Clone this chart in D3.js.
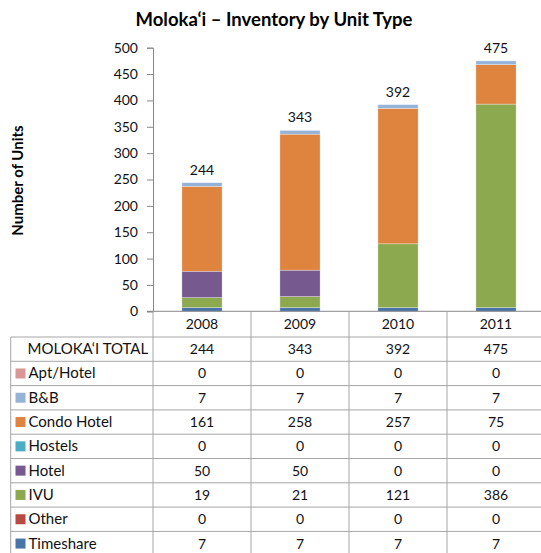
<!DOCTYPE html>
<html>
<head>
<meta charset="utf-8">
<title>Moloka'i - Inventory by Unit Type</title>
<script src="https://cdn.jsdelivr.net/npm/d3@7"></script>
<style>
body {
  margin: 0;
  background: #fff;
  font-family: Lato, "Open Sans", sans-serif;
}
.title {
  font-size: 18.5px;
  font-weight: bold;
  fill: #000;
}
.ylabel {
  font-size: 15px;
  font-weight: bold;
}
.tick text, .cell, .total-label {
  font-size: 14px;
  fill: #111;
}
.cell.row-label {
  font-size: 15px;
}
.grid line {
  stroke: #a6a6a6;
  stroke-width: 1;
}
</style>
</head>
<body>
<div id="chart"></div>
<script>
var years = ["2008", "2009", "2010", "2011"];
var totals = [244, 343, 392, 475];
// table order (top to bottom); bars stack in reverse
var unitTypes = ["Apt/Hotel", "B&B", "Condo Hotel", "Hostels", "Hotel", "IVU", "Other", "Timeshare"];
var aptHotel   = [0, 0, 0, 0];
var bnb        = [7, 7, 7, 7];
var condoHotel = [161, 258, 257, 75];
var hostels    = [0, 0, 0, 0];
var hotel      = [50, 50, 0, 0];
var ivu        = [19, 21, 121, 386];
var other      = [0, 0, 0, 0];
var timeshare  = [7, 7, 7, 7];
var colors = ["#D99694", "#95B3D7", "#DF843E", "#4BACC6", "#75598F", "#8CA94F", "#B94742", "#4A73A8"];
var yTicks = [0, 50, 100, 150, 200, 250, 300, 350, 400, 450, 500];

var series = [aptHotel, bnb, condoHotel, hostels, hotel, ivu, other, timeshare];

drawChart('#chart');

function drawChart(target) {
  var width = 541, height = 553;
  var plot = {left: 153, right: 545, top: 47.7, bottom: 311.3};
  var table = {left: 10.7, top: 337, rowH: 24.3};

  var svg = d3.select(target).append('svg')
    .attr('width', width)
    .attr('height', height);

  var x = d3.scaleBand().domain(years).range([plot.left, plot.right]).padding(0);
  var barW = x.bandwidth() * 0.41;
  var y = d3.scaleLinear().domain([0, 500]).range([plot.bottom, plot.top]);

  // stacked data, bottom = Timeshare
  var rows = years.map(function(yr, i) {
    var r = {year: yr};
    unitTypes.forEach(function(t, j) { r[t] = series[j][i]; });
    return r;
  });
  var stackKeys = unitTypes.slice().reverse();
  var stacked = d3.stack().keys(stackKeys)(rows);

  svg.append('g').selectAll('g')
    .data(stacked)
    .enter().append('g')
      .attr('fill', function(d) { return colors[unitTypes.indexOf(d.key)]; })
    .selectAll('rect')
    .data(function(d) { return d.filter(function(p) { return p[1] > p[0]; }); })
    .enter().append('rect')
      .attr('x', function(d) { return x(d.data.year) + (x.bandwidth() - barW) / 2; })
      .attr('width', barW)
      .attr('y', function(d) { return y(d[1]); })
      .attr('height', function(d) { return y(d[0]) - y(d[1]); })
      .attr('stroke', '#fff')
      .attr('stroke-opacity', 0.5)
      .attr('stroke-width', 0.6);

  // total labels above bars
  svg.append('g').selectAll('text')
    .data(totals)
    .enter().append('text')
      .attr('class', 'total-label')
      .attr('text-anchor', 'middle')
      .attr('x', function(d, i) { return x(years[i]) + x.bandwidth() / 2; })
      .attr('y', function(d) { return y(d) - 8; })
      .text(function(d) { return d; });

  // y axis
  var yAxis = svg.append('g')
    .attr('transform', 'translate(' + plot.left + ',0)')
    .call(d3.axisLeft(y).tickValues(yTicks).tickSize(6).tickPadding(9));
  yAxis.select('.domain').attr('stroke', '#888');
  yAxis.selectAll('.tick line').attr('stroke', '#888');
  yAxis.selectAll('.tick text').attr('font-family', 'Lato, sans-serif').attr('font-size', 14).attr('fill', '#111');

  // x axis line
  svg.append('line')
    .attr('x1', plot.left - 6).attr('x2', width)
    .attr('y1', plot.bottom).attr('y2', plot.bottom)
    .attr('stroke', '#888');

  svg.append('text')
    .attr('class', 'ylabel')
    .attr('transform', 'translate(23,' + ((plot.top + plot.bottom) / 2 + 1) + ') rotate(-90)')
    .attr('text-anchor', 'middle')
    .text('Number of Units');

  svg.append('text')
    .attr('class', 'title')
    .attr('x', 274)
    .attr('y', 26)
    .attr('text-anchor', 'middle')
    .text('Moloka\u2018i \u2013 Inventory by Unit Type');

  // year labels row
  svg.append('g').selectAll('text')
    .data(years)
    .enter().append('text')
      .attr('class', 'cell')
      .attr('text-anchor', 'middle')
      .attr('x', function(d) { return x(d) + x.bandwidth() / 2; })
      .attr('y', (plot.bottom + table.top) / 2 + 5)
      .text(function(d) { return d; });

  // data table
  var tableRows = [{label: "MOLOKA\u2018I TOTAL", values: totals, color: null}].concat(
    unitTypes.map(function(t, j) { return {label: t, values: series[j], color: colors[j]}; }));
  var tableBottom = table.top + tableRows.length * table.rowH;

  var grid = svg.append('g').attr('class', 'grid');
  d3.range(tableRows.length + 1).forEach(function(i) {
    grid.append('line')
      .attr('x1', table.left).attr('x2', width)
      .attr('y1', table.top + i * table.rowH).attr('y2', table.top + i * table.rowH);
  });
  grid.append('line')
    .attr('x1', table.left).attr('x2', table.left)
    .attr('y1', table.top).attr('y2', tableBottom);
  years.forEach(function(yr) {
    grid.append('line')
      .attr('x1', x(yr)).attr('x2', x(yr))
      .attr('y1', plot.bottom).attr('y2', tableBottom);
  });
  grid.append('line')
    .attr('x1', plot.right).attr('x2', plot.right)
    .attr('y1', plot.bottom).attr('y2', tableBottom);

  var tr = svg.append('g').selectAll('g')
    .data(tableRows)
    .enter().append('g')
      .attr('transform', function(d, i) { return 'translate(0,' + (table.top + i * table.rowH) + ')'; });

  tr.filter(function(d) { return d.color; })
    .append('rect')
      .attr('x', 15.5).attr('y', table.rowH / 2 - 5)
      .attr('width', 10).attr('height', 10)
      .attr('fill', function(d) { return d.color; });

  tr.append('text')
    .attr('class', 'cell row-label')
    .attr('x', function(d) { return d.color ? 28.5 : 27.5; })
    .attr('y', table.rowH / 2 + 5)
    .text(function(d) { return d.label; });

  tr.selectAll('text.val')
    .data(function(d) { return d.values; })
    .enter().append('text')
      .attr('class', 'cell val')
      .attr('text-anchor', 'middle')
      .attr('x', function(d, i) { return x(years[i]) + x.bandwidth() / 2; })
      .attr('y', table.rowH / 2 + 5)
      .text(function(d) { return d; });
}
</script>
</body>
</html>
